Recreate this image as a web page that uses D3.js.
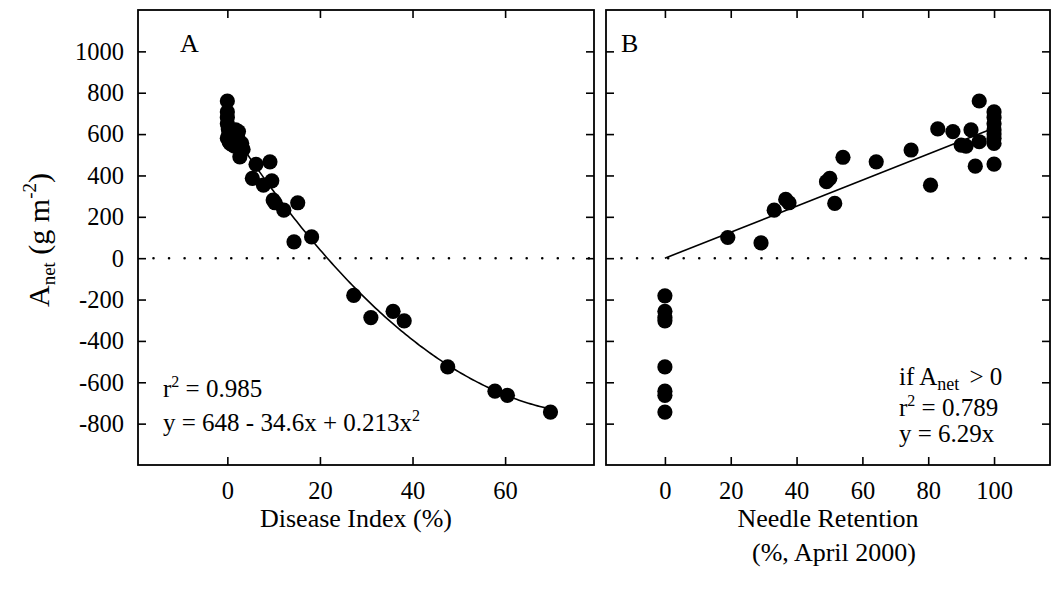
<!DOCTYPE html>
<html>
<head>
<meta charset="utf-8">
<script src="https://cdn.jsdelivr.net/npm/d3@7"></script>
<style>
  html, body { margin: 0; padding: 0; background: #fff; }
  svg { display: block; }
  text { font-family: "Liberation Serif", "Times New Roman", serif; fill: #000; }
</style>
</head>
<body>
<svg id="chart" width="1051" height="593"></svg>
<script>
// Panel A: net assimilation vs. disease index
const diseaseIndex = [0, 0, 0, 0, 0.2, 0.3, 0, 0.4, 0.6, 1.2, 1.6, 2.4, 1.8, 2.2, 3.1, 3.4, 2.7,
  5.4, 6.2, 7.8, 9.2, 9.6, 9.9, 10.3, 12.2, 15.2, 14.4, 18.2,
  27.3, 31.0, 35.8, 38.2, 47.6, 57.8, 60.5, 69.8];
const anetA = [760, 707, 680, 650, 625, 600, 580, 563, 555, 547, 542, 612, 620, 590, 555, 526, 490,
  386, 454, 353, 466, 374, 281, 268, 232, 268, 79, 103,
  -180, -287, -257, -303, -526, -643, -663, -744];

// Panel B: net assimilation vs. needle retention (April 2000)
const needleRetention = [0, 0, 0, 0, 0, 0, 0, 0,
  19.1, 29.2, 33.2, 36.7, 37.7, 49.1, 50.1, 51.6, 54.1, 64.2, 74.8, 80.7,
  82.9, 87.5, 90, 91.5, 93, 94.3, 95.5, 95.5,
  100, 100, 100, 100, 100, 100, 100, 100];
const anetB = [-182, -257, -287, -303, -526, -643, -663, -744,
  100, 74, 232, 284, 268, 370, 386, 265, 488, 466, 523, 353,
  625, 612, 547, 542, 620, 445, 563, 760,
  707, 680, 650, 620, 600, 580, 555, 455];

// Fitted relationships
const fitA = [648, -34.6, 0.213];   // y = a + b x + c x^2
const fitARange = [0, 70];
const slopeB = 6.29;                 // y = m x, fitted where A_net > 0
const fitBRange = [0, 100];

// Tick values
const yTicks = [-800, -600, -400, -200, 0, 200, 400, 600, 800, 1000];
const xTicksA = [0, 20, 40, 60];
const xTicksB = [0, 20, 40, 60, 80, 100];

const svg = d3.select("#chart");
const plotTop = 10, plotBottom = 465;

const y = d3.scaleLinear().domain([-1000, 1200]).range([plotBottom, plotTop]);
const xA = d3.scaleLinear().domain([-19.3, 79.2]).range([138, 594]);
const xB = d3.scaleLinear().domain([-17.9, 117]).range([606, 1050]);

const TICK = 8;
const plain = d => String(d);   // hyphen-minus, as in the printed figure

function drawPanel(x, xTicks, showYLabels) {
  const g = svg.append("g");
  const [x0, x1] = x.range();

  // zero reference line (dotted)
  g.append("line")
    .attr("x1", x0).attr("x2", x1)
    .attr("y1", y(0)).attr("y2", y(0))
    .attr("stroke", "#000").attr("stroke-width", 2.6)
    .attr("stroke-linecap", "round")
    .attr("stroke-dasharray", "0,15.55")
    .attr("stroke-dashoffset", -15.5);

  // axes with inward ticks on all four sides
  const bottomAx = g.append("g").attr("transform", `translate(0,${plotBottom})`)
    .call(d3.axisBottom(x).tickValues(xTicks).tickSize(-TICK).tickPadding(17).tickFormat(plain));
  const topAx = g.append("g").attr("transform", `translate(0,${plotTop})`)
    .call(d3.axisTop(x).tickValues(xTicks).tickSize(-TICK).tickFormat(""));
  const leftAx = g.append("g").attr("transform", `translate(${x0},0)`)
    .call(d3.axisLeft(y).tickValues(yTicks).tickSize(-TICK).tickPadding(14)
      .tickFormat(showYLabels ? plain : ""));
  const rightAx = g.append("g").attr("transform", `translate(${x1},0)`)
    .call(d3.axisRight(y).tickValues(yTicks).tickSize(-TICK).tickFormat(""));

  [bottomAx, topAx, leftAx, rightAx].forEach(a => {
    a.select(".domain").remove();
    a.selectAll(".tick line").attr("stroke", "#000").attr("stroke-width", 1.6);
    a.selectAll("text").attr("font-size", 24.5).attr("font-family", "Liberation Serif, serif").attr("fill", "#000");
  });

  // frame
  g.append("rect")
    .attr("x", x0).attr("y", plotTop)
    .attr("width", x1 - x0).attr("height", plotBottom - plotTop)
    .attr("fill", "none").attr("stroke", "#000").attr("stroke-width", 1.8);

  return g;
}

const gA = drawPanel(xA, xTicksA, true);
const gB = drawPanel(xB, xTicksB, false);

// quadratic fit in panel A
const curveX = d3.range(fitARange[0], fitARange[1] + 0.001, 0.5);
gA.append("path")
  .datum(curveX)
  .attr("fill", "none").attr("stroke", "#000").attr("stroke-width", 1.6)
  .attr("d", d3.line()
    .x(d => xA(d))
    .y(d => y(fitA[0] + fitA[1] * d + fitA[2] * d * d)));

// linear fit in panel B
gB.append("path")
  .datum(fitBRange)
  .attr("fill", "none").attr("stroke", "#000").attr("stroke-width", 1.6)
  .attr("d", d3.line().x(d => xB(d)).y(d => y(slopeB * d)));

// data points
const R = 7.6;
gA.selectAll("circle.pt")
  .data(d3.zip(diseaseIndex, anetA))
  .join("circle").attr("class", "pt")
  .attr("cx", d => xA(d[0])).attr("cy", d => y(d[1])).attr("r", R).attr("fill", "#000");

gB.selectAll("circle.pt")
  .data(d3.zip(needleRetention, anetB))
  .join("circle").attr("class", "pt")
  .attr("cx", d => xB(d[0])).attr("cy", d => y(d[1])).attr("r", R).attr("fill", "#000");

// panel letters
svg.append("text").attr("x", 180).attr("y", 52).attr("font-size", 26).text("A");
svg.append("text").attr("x", 621).attr("y", 52).attr("font-size", 26).text("B");

const ANN = 25, SUP = 16;

// r-squared label with superscript
function rSquared(xPos, yPos, value) {
  const t = svg.append("text").attr("x", xPos).attr("y", yPos).attr("font-size", ANN);
  t.append("tspan").text("r");
  t.append("tspan").attr("dy", -10).attr("font-size", SUP).text("2");
  t.append("tspan").attr("dy", 10).text(" = " + value);
}

// panel A annotation
rSquared(163, 397, "0.985");
{
  const t = svg.append("text").attr("x", 163).attr("y", 431).attr("font-size", ANN);
  t.append("tspan").text(`y = ${fitA[0]} - ${-fitA[1]}x + ${fitA[2]}x`);
  t.append("tspan").attr("dy", -10).attr("font-size", SUP).text("2");
}

// panel B annotation
{
  const t = svg.append("text").attr("x", 899).attr("y", 385).attr("font-size", ANN);
  t.append("tspan").text("if A");
  t.append("tspan").attr("dy", 5).attr("font-size", 18).text("net");
  t.append("tspan").attr("dy", -5).attr("dx", 4).text(" > 0");
}
rSquared(899, 416, "0.789");
svg.append("text").attr("x", 899).attr("y", 442).attr("font-size", ANN).text(`y = ${slopeB}x`);

// axis titles
svg.append("text").attr("x", 356).attr("y", 527).attr("font-size", 26)
  .attr("text-anchor", "middle").text("Disease Index (%)");
svg.append("text").attr("x", 828).attr("y", 527).attr("font-size", 26)
  .attr("text-anchor", "middle").text("Needle Retention");
svg.append("text").attr("x", 834).attr("y", 561).attr("font-size", 26)
  .attr("text-anchor", "middle").text("(%, April 2000)");

{
  const t = svg.append("text")
    .attr("transform", "translate(49,240) rotate(-90)")
    .attr("text-anchor", "middle").attr("font-size", 30);
  t.append("tspan").text("A");
  t.append("tspan").attr("dy", 6).attr("font-size", 19).text("net");
  t.append("tspan").attr("dy", -6).text(" (g m");
  t.append("tspan").attr("dy", -13).attr("font-size", 19).text("-2");
  t.append("tspan").attr("dy", 13).text(")");
}
</script>
</body>
</html>
